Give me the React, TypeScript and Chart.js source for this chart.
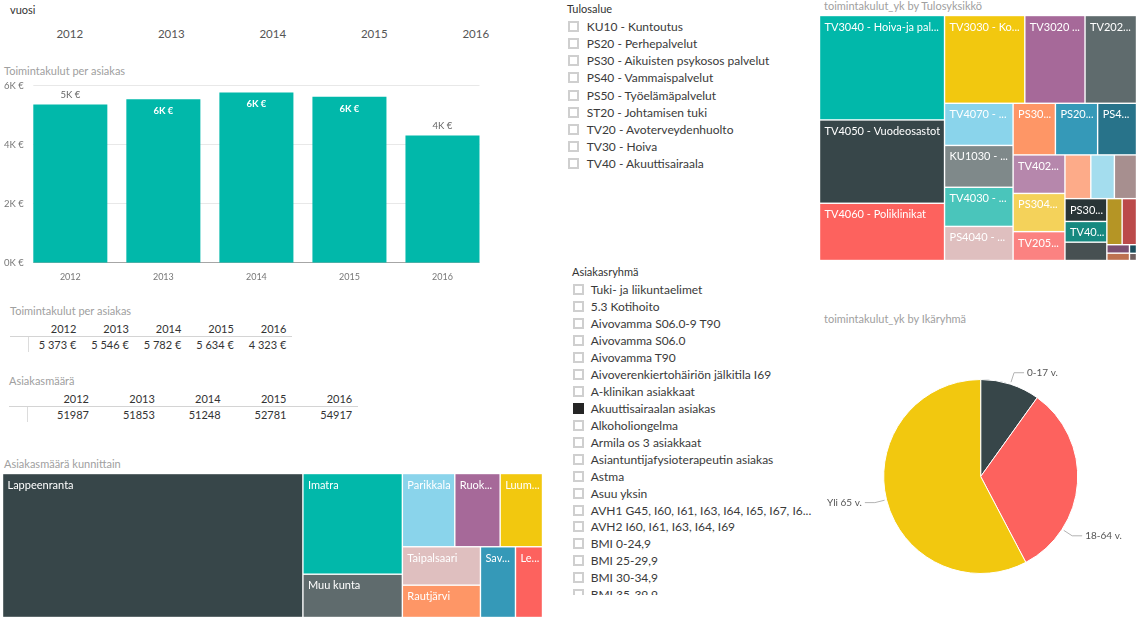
import React, { useEffect, useRef } from "react";
import { Chart, registerables } from "chart.js";

Chart.register(...registerables);

const FONT = "Lato, 'Open Sans', 'DejaVu Sans', sans-serif";

// ---------------- data ----------------
const yearSlicerValues = ["2012", "2013", "2014", "2015", "2016"];
const barCategories = ["2012", "2013", "2014", "2015", "2016"];
const costPerClient = [5373, 5546, 5782, 5634, 4323];
const costAxisTicks = [0, 2000, 4000, 6000];
const tableYears = ["2012", "2013", "2014", "2015", "2016"];
const clientCounts = [51987, 51853, 51248, 52781, 54917];

const tulosalueet = [
  "KU10 - Kuntoutus",
  "PS20 - Perhepalvelut",
  "PS30 - Aikuisten psykosos palvelut",
  "PS40 - Vammaispalvelut",
  "PS50 - Työelämäpalvelut",
  "ST20 - Johtamisen tuki",
  "TV20 - Avoterveydenhuolto",
  "TV30 - Hoiva",
  "TV40 - Akuuttisairaala",
];

const asiakasryhmat = [
  "Tuki- ja liikuntaelimet",
  "5.3 Kotihoito",
  "Aivovamma S06.0-9 T90",
  "Aivovamma S06.0",
  "Aivovamma T90",
  "Aivoverenkiertohäiriön jälkitila I69",
  "A-klinikan asiakkaat",
  "Akuuttisairaalan asiakas",
  "Alkoholiongelma",
  "Armila os 3 asiakkaat",
  "Asiantuntijafysioterapeutin asiakas",
  "Astma",
  "Asuu yksin",
  "AVH1 G45, I60, I61, I63, I64, I65, I67, I68, I69",
  "AVH2 I60, I61, I63, I64, I69",
  "BMI 0-24,9",
  "BMI 25-29,9",
  "BMI 30-34,9",
  "BMI 35-39,9",
];
const valitutAsiakasryhmat = ["Akuuttisairaalan asiakas"];

const kunnat = [
  "Lappeenranta",
  "Imatra",
  "Muu kunta",
  "Parikkala",
  "Ruokolahti",
  "Luumäki",
  "Taipalsaari",
  "Rautjärvi",
  "Savitaipale",
  "Lemi",
];
const kuntaAsiakkaat = [30550, 7073, 3042, 2712, 2347, 2191, 2118, 1783, 1750, 1350];
const kuntaVarit = [
  "#374649", "#01B8AA", "#5F6B6D", "#8AD4EB", "#A66999",
  "#F2C80F", "#DFBFBF", "#FE9666", "#3599B8", "#FD625E",
];

const tulosyksikot = [
  "TV3040 - Hoiva-ja palveluasuminen",
  "TV4050 - Vuodeosastot",
  "TV4060 - Poliklinikat",
  "TV3030 - Kotihoito",
  "TV3020 - Kotiutustiimi",
  "TV2020 - Vastaanotot",
  "TV4070 - Kuvantaminen",
  "KU1030 - Kuntoutuspalvelut",
  "TV4030 - Päivystys",
  "PS4040 - Asumispalvelut",
  "PS3030 - Päihdepalvelut",
  "PS2010 - Lastensuojelu",
  "PS4030 - Työtoiminta",
  "TV4020 - Leikkaustoiminta",
  "PS3040 - Mielenterveyspalvelut",
  "TV2050 - Suun terveydenhuolto",
  "TV2030 - Neuvolat",
  "TV2040 - Kouluterveydenhuolto",
  "TV2060 - Fysioterapia",
  "PS3020 - Aikuissosiaalityö",
  "TV4010 - Ensihoito",
  "PS2020 - Perhetyö",
  "KU1020 - Apuvälineet",
  "TV4040 - Laboratorio",
  "PS4020 - Kehitysvammapalvelut",
  "PS5010 - Työllisyyspalvelut",
  "ST2010 - Hallinto",
  "PS2030 - Perheneuvola",
];
const tulosyksikkoKulut = [
  12969, 10350, 7108, 7000, 5250, 4489, 2870, 2850, 2664, 2322, 2170, 2165, 1993, 1984,
  1968, 1487, 1123, 1024, 960, 950, 863, 763, 699, 658, 190, 165, 60, 50,
];
const tulosyksikkoVarit = [
  "#01B8AA", "#374649", "#FD625E", "#F2C80F", "#A66999", "#5F6B6D", "#8AD4EB",
  "#7F898A", "#4AC5BB", "#DFBFBF", "#FE9666", "#3599B8", "#28738A", "#B687AC",
  "#F4D25A", "#FB8281", "#FDAB89", "#A4DDEE", "#A78F8F", "#293537", "#168980",
  "#475052", "#B59525", "#BB4A4A", "#7B4F71", "#BD7150", "#1B4D5C", "#706060",
];

const ikaryhmat = ["0-17 v.", "18-64 v.", "Yli 65 v."];
const ikaryhmaKulut = [9.9, 32.4, 57.7];
const ikaryhmaVarit = ["#374649", "#FD625E", "#F2C80F"];

// ---------------- helpers ----------------
let measureCtx: CanvasRenderingContext2D | null = null;
function measure(text: string, font: string): number {
  if (!measureCtx) measureCtx = document.createElement("canvas").getContext("2d");
  measureCtx!.font = font;
  return measureCtx!.measureText(text).width;
}
function fitText(text: string, font: string, maxW: number, minChars = 1): string | null {
  if (measure(text, font) <= maxW) return text;
  let s = text;
  while (s.length > 0 && measure(s + "...", font) > maxW) s = s.slice(0, -1);
  if (s.length < minChars) return null;
  return s + "...";
}
function fmtThousands(v: number): string {
  return String(v).replace(/\B(?=(\d{3})+(?!\d))/g, "\u00a0");
}

type Rect = { x0: number; y0: number; x1: number; y1: number };
// squarified layout (golden-ratio variant)
function squarify(values: number[], x0: number, y0: number, x1: number, y1: number): Rect[] {
  const ratio = (1 + Math.sqrt(5)) / 2;
  const rects: Rect[] = new Array(values.length);
  const n = values.length;
  let i0 = 0;
  let value = values.reduce((a, b) => a + b, 0);
  while (i0 < n) {
    const dx = x1 - x0;
    const dy = y1 - y0;
    let i1 = i0;
    let sumValue = values[i1++];
    let minValue = sumValue;
    let maxValue = sumValue;
    const alpha = Math.max(dy / dx, dx / dy) / (value * ratio);
    let beta = sumValue * sumValue * alpha;
    let minRatio = Math.max(maxValue / beta, beta / minValue);
    for (; i1 < n; ++i1) {
      const nv = values[i1];
      sumValue += nv;
      if (nv < minValue) minValue = nv;
      if (nv > maxValue) maxValue = nv;
      beta = sumValue * sumValue * alpha;
      const newRatio = Math.max(maxValue / beta, beta / minValue);
      if (newRatio > minRatio) {
        sumValue -= nv;
        break;
      }
      minRatio = newRatio;
    }
    if (dx < dy) {
      const yb = i1 >= n ? y1 : y0 + (dy * sumValue) / value;
      const k = (x1 - x0) / sumValue;
      let x = x0;
      for (let i = i0; i < i1; i++) {
        const w = values[i] * k;
        rects[i] = { x0: x, y0, x1: x + w, y1: yb };
        x += w;
      }
      y0 = yb;
    } else {
      const xb = i1 >= n ? x1 : x0 + (dx * sumValue) / value;
      const k = (y1 - y0) / sumValue;
      let y = y0;
      for (let i = i0; i < i1; i++) {
        const h = values[i] * k;
        rects[i] = { x0, y0: y, x1: xb, y1: y + h };
        y += h;
      }
      x0 = xb;
    }
    value -= sumValue;
    i0 = i1;
  }
  return rects;
}

// ---------------- text primitives ----------------
type TxtProps = {
  x: number;
  y: number;
  text: string;
  size?: number;
  color?: string;
  align?: "left" | "right" | "center";
  weight?: number;
};
function Txt({ x, y, text, size = 11, color = "#333", align = "left", weight = 400 }: TxtProps) {
  const lh = Math.round(size * 1.4);
  const style: React.CSSProperties = {
    position: "absolute",
    top: y - lh / 2,
    lineHeight: lh + "px",
    fontSize: size,
    color,
    fontWeight: weight,
    whiteSpace: "nowrap",
  };
  if (align === "left") style.left = x;
  else if (align === "right") {
    style.right = 1142 - x;
    style.textAlign = "right";
  } else {
    style.left = x - 60;
    style.width = 120;
    style.textAlign = "center";
  }
  return <div style={style}>{text}</div>;
}

// ---------------- bar chart ----------------
function CostBarChart() {
  const ref = useRef<HTMLCanvasElement>(null);
  useEffect(() => {
    const deco = {
      id: "deco",
      beforeDatasetsDraw(chart: any) {
        const { ctx } = chart;
        const ys = chart.scales.y;
        const meta = chart.getDatasetMeta(0);
        const first = meta.data[0];
        const last = meta.data[meta.data.length - 1];
        const left = first.x - first.width / 2;
        const right = last.x + last.width / 2;
        ctx.save();
        ctx.lineWidth = 1;
        for (const t of costAxisTicks) {
          const py = Math.round(ys.getPixelForValue(t)) - 0.5;
          ctx.strokeStyle = t === 0 ? "#a6a6a6" : "#e8e8e8";
          ctx.beginPath();
          ctx.moveTo(left, py);
          ctx.lineTo(right, py);
          ctx.stroke();
        }
        ctx.restore();
      },
      afterDatasetsDraw(chart: any) {
        const { ctx, chartArea } = chart;
        const meta = chart.getDatasetMeta(0);
        ctx.save();
        ctx.textAlign = "center";
        ctx.textBaseline = "middle";
        meta.data.forEach((bar: any, i: number) => {
          const v = costPerClient[i];
          const label = `${Math.round(v / 1000)}K €`;
          const space = bar.y - chartArea.top;
          if (space >= 16) {
            ctx.font = `9.5px ${FONT}`;
            ctx.fillStyle = "#666";
            ctx.fillText(label, bar.x, bar.y - 9.5);
          } else {
            ctx.font = `bold 9.5px ${FONT}`;
            ctx.fillStyle = "#ffffff";
            ctx.fillText(label, bar.x, bar.y + 12);
          }
        });
        ctx.restore();
      },
    };
    const chart = new Chart(ref.current!, {
      type: "bar",
      data: {
        labels: barCategories,
        datasets: [
          {
            data: costPerClient,
            backgroundColor: "#01B8AA",
            borderWidth: 0,
            barPercentage: 74 / 93,
            categoryPercentage: 1,
          },
        ],
      },
      options: {
        animation: false,
        responsive: false,
        events: [],
        layout: { padding: { top: 10, right: 0, left: 0, bottom: 0 } },
        plugins: { legend: { display: false }, tooltip: { enabled: false } },
        scales: {
          x: {
            grid: { display: false, drawTicks: false },
            border: { display: false },
            ticks: { color: "#777", font: { family: FONT, size: 9 }, padding: 9, maxRotation: 0 },
            afterFit: (s: any) => {
              s.height = 29.3;
            },
          },
          y: {
            min: 0,
            max: 6000,
            grid: { display: false, drawTicks: false },
            border: { display: false },
            ticks: {
              color: "#777",
              font: { family: FONT, size: 9.5 },
              padding: 0,
              callback: (v: any) => `${Number(v) / 1000}K €`,
            },
            afterBuildTicks: (s: any) => {
              s.ticks = costAxisTicks.map((v) => ({ value: v }));
            },
            afterFit: (s: any) => {
              s.width = 23.8;
            },
          },
        },
      } as any,
      plugins: [deco],
    });
    return () => chart.destroy();
  }, []);
  return (
    <canvas
      ref={ref}
      width={489}
      height={216}
      style={{ position: "absolute", left: 0, top: 76, width: 489, height: 216 }}
    />
  );
}

// ---------------- treemap (drawn on chart.js linear scales) ----------------
type TreemapProps = {
  left: number;
  top: number;
  width: number;
  height: number;
  labels: string[];
  values: number[];
  colors: string[];
  labelInset: number;
};
function Treemap({ left, top, width, height, labels, values, colors, labelInset }: TreemapProps) {
  const ref = useRef<HTMLCanvasElement>(null);
  useEffect(() => {
    const treemapPlugin = {
      id: "treemap",
      afterDatasetsDraw(chart: any) {
        const { ctx } = chart;
        const xs = chart.scales.x;
        const ys = chart.scales.y;
        const rects = squarify(values, 0.5, 0.5, width - 0.5, height - 0.5);
        const font = `11px ${FONT}`;
        ctx.save();
        rects.forEach((r, i) => {
          const px0 = xs.getPixelForValue(r.x0);
          const px1 = xs.getPixelForValue(r.x1);
          const py0 = ys.getPixelForValue(r.y0);
          const py1 = ys.getPixelForValue(r.y1);
          const w = px1 - px0;
          const h = py1 - py0;
          ctx.fillStyle = colors[i];
          ctx.fillRect(px0 + 0.7, py0 + 0.7, Math.max(w - 1.4, 0), Math.max(h - 1.4, 0));
          if (h >= 20) {
            const t = fitText(labels[i], font, w - labelInset, 2);
            if (t) {
              ctx.font = font;
              ctx.fillStyle = "#ffffff";
              ctx.textBaseline = "alphabetic";
              ctx.textAlign = "left";
              ctx.fillText(t, px0 + 5, py0 + 15);
            }
          }
        });
        ctx.restore();
      },
    };
    const chart = new Chart(ref.current!, {
      type: "scatter",
      data: { datasets: [{ data: [] }] },
      options: {
        animation: false,
        responsive: false,
        events: [],
        layout: { padding: 0 },
        plugins: { legend: { display: false }, tooltip: { enabled: false } },
        scales: {
          x: { type: "linear", min: 0, max: width, display: false },
          y: { type: "linear", min: 0, max: height, reverse: true, display: false },
        },
      } as any,
      plugins: [treemapPlugin],
    });
    return () => chart.destroy();
  }, []);
  return (
    <canvas
      ref={ref}
      width={width}
      height={height}
      style={{ position: "absolute", left, top, width, height }}
    />
  );
}

// ---------------- pie ----------------
function AgePie() {
  const ref = useRef<HTMLCanvasElement>(null);
  useEffect(() => {
    const labelPlugin = {
      id: "pieLabels",
      afterDatasetsDraw(chart: any) {
        const { ctx } = chart;
        const meta = chart.getDatasetMeta(0);
        const font = `10px ${FONT}`;
        const rightBound = chart.width - 20;
        ctx.save();
        ctx.font = font;
        meta.data.forEach((arc: any, i: number) => {
          const { startAngle, endAngle, outerRadius, x, y } = arc.getProps(
            ["startAngle", "endAngle", "outerRadius", "x", "y"],
            true
          );
          const text = ikaryhmat[i];
          const tw = ctx.measureText(text).width;
          let ang = (startAngle + endAngle) / 2;
          const step = Math.PI / 180;
          for (let k = 0; k < 120; k++) {
            const c = Math.cos(ang);
            const ex = x + (outerRadius + 12) * c;
            if (c >= 0 && ex + 13 + tw > rightBound && ang + step < endAngle - step) {
              ang += Math.sin(ang) >= 0 ? step : -step;
            } else break;
          }
          const c = Math.cos(ang);
          const s = Math.sin(ang);
          const sx = x + (outerRadius + 2) * c;
          const sy = y + (outerRadius + 2) * s;
          const ex = x + (outerRadius + 12) * c;
          const ey = y + (outerRadius + 12) * s;
          const dir = c >= 0 ? 1 : -1;
          const hx = ex + dir * 10;
          ctx.strokeStyle = "#b3b3b3";
          ctx.lineWidth = 1;
          ctx.beginPath();
          ctx.moveTo(sx, sy);
          ctx.lineTo(ex, ey);
          ctx.lineTo(hx, ey);
          ctx.stroke();
          ctx.fillStyle = "#555";
          ctx.textBaseline = "middle";
          ctx.textAlign = dir > 0 ? "left" : "right";
          ctx.fillText(text, hx + dir * 3, ey);
        });
        ctx.restore();
      },
    };
    const chart = new Chart(ref.current!, {
      type: "pie",
      data: {
        labels: ikaryhmat,
        datasets: [
          {
            data: ikaryhmaKulut,
            backgroundColor: ikaryhmaVarit,
            borderWidth: 1,
            borderColor: "#ffffff",
          },
        ],
      },
      options: {
        animation: false,
        responsive: false,
        events: [],
        layout: { padding: { left: 68.2, right: 63.8, top: 43, bottom: 43 } },
        plugins: { legend: { display: false }, tooltip: { enabled: false } },
      } as any,
      plugins: [labelPlugin],
    });
    return () => chart.destroy();
  }, []);
  return (
    <canvas
      ref={ref}
      width={327}
      height={281}
      style={{ position: "absolute", left: 815, top: 336, width: 327, height: 281 }}
    />
  );
}

// ---------------- slicer ----------------
function Checkbox({ x, y, checked }: { x: number; y: number; checked: boolean }) {
  return (
    <div
      style={{
        position: "absolute",
        left: x,
        top: y - 5.5,
        width: 11,
        height: 11,
        boxSizing: "border-box",
        border: checked ? "1px solid #252525" : "2px solid #cfcfcf",
        background: checked ? "#252525" : "#fff",
      }}
    />
  );
}

function ListSlicer({
  title,
  titleX,
  titleY,
  boxX,
  textX,
  firstY,
  step,
  items,
  checked,
  clipBottom,
  textRight,
}: {
  title: string;
  titleX: number;
  titleY: number;
  boxX: number;
  textX: number;
  firstY: number;
  step: number;
  items: string[];
  checked: string[];
  clipBottom: number;
  textRight: number;
}) {
  const clipTop = firstY - step / 2 - 2;
  const font = `12px ${FONT}`;
  return (
    <>
      <Txt x={titleX} y={titleY} text={title} size={11} color="#333" />
      <div
        style={{
          position: "absolute",
          left: boxX - 2,
          top: clipTop,
          width: textRight - boxX + 6,
          height: clipBottom - clipTop,
          overflow: "hidden",
        }}
      >
        {items.map((it, i) => {
          const cy = firstY + i * step - clipTop;
          const shown = fitText(it, font, textRight - textX) || it;
          return (
            <React.Fragment key={it}>
              <Checkbox x={2} y={cy} checked={checked.includes(it)} />
              <div
                style={{
                  position: "absolute",
                  left: textX - boxX + 2,
                  top: cy - 8.5,
                  lineHeight: "17px",
                  fontSize: 12,
                  color: "#3a3a3a",
                  whiteSpace: "nowrap",
                }}
              >
                {shown}
              </div>
            </React.Fragment>
          );
        })}
      </div>
    </>
  );
}

// ---------------- tables ----------------
function MatrixTable({
  title,
  titleX,
  titleY,
  lineLeft,
  lineRight,
  sepX,
  colStep,
  colPad,
  headerY,
  lineY,
  valueY,
  headers,
  values,
}: {
  title: string;
  titleX: number;
  titleY: number;
  lineLeft: number;
  lineRight: number;
  sepX: number;
  colStep: number;
  colPad: number;
  headerY: number;
  lineY: number;
  valueY: number;
  headers: string[];
  values: string[];
}) {
  return (
    <>
      <Txt x={titleX} y={titleY} text={title} size={11} color="#a0a0a0" />
      {headers.map((h, i) => (
        <Txt key={"h" + i} x={sepX + (i + 1) * colStep - colPad} y={headerY} text={h} align="right" color="#333" />
      ))}
      <div
        style={{
          position: "absolute",
          left: lineLeft,
          top: lineY,
          width: lineRight - lineLeft,
          height: 1,
          background: "#d4d4d4",
        }}
      />
      <div
        style={{ position: "absolute", left: sepX, top: lineY + 1, width: 1, height: 15, background: "#dcdcdc" }}
      />
      {values.map((v, i) => (
        <Txt key={"v" + i} x={sepX + (i + 1) * colStep - colPad} y={valueY} text={v} align="right" color="#333" />
      ))}
    </>
  );
}

export default function App() {
  return (
    <div
      style={{
        position: "absolute",
        left: 0,
        top: 0,
        width: 1142,
        height: 623,
        overflow: "hidden",
        background: "#fff",
        fontFamily: FONT,
      }}
    >
      {/* vuosi slicer */}
      <Txt x={10} y={9} text="vuosi" size={11} color="#333" />
      {yearSlicerValues.map((y, i) => (
        <Txt key={y} x={19 + 101.5 * i + 50.75} y={34} text={y} size={11.5} color="#555" align="center" />
      ))}

      {/* bar chart */}
      <Txt x={4} y={70} text="Toimintakulut per asiakas" size={11} color="#a0a0a0" />
      <CostBarChart />

      {/* tables */}
      <MatrixTable
        title="Toimintakulut per asiakas"
        titleX={10}
        titleY={310}
        lineLeft={10}
        lineRight={292}
        sepX={27.7}
        colStep={52.5}
        colPad={3.9}
        headerY={328.5}
        lineY={336}
        valueY={344}
        headers={tableYears}
        values={costPerClient.map((v) => fmtThousands(v) + "\u00a0€")}
      />
      <MatrixTable
        title="Asiakasmäärä"
        titleX={9}
        titleY={380}
        lineLeft={9}
        lineRight={358}
        sepX={26.7}
        colStep={65.8}
        colPad={3.5}
        headerY={398}
        lineY={406}
        valueY={414}
        headers={tableYears}
        values={clientCounts.map((v) => String(v))}
      />

      {/* municipality treemap */}
      <Txt x={4} y={463} text="Asiakasmäärä kunnittain" size={11} color="#a0a0a0" />
      <Treemap
        left={2}
        top={473}
        width={541}
        height={145}
        labels={kunnat}
        values={kuntaAsiakkaat}
        colors={kuntaVarit}
        labelInset={7.8}
      />

      {/* Tulosalue slicer */}
      <ListSlicer
        title="Tulosalue"
        titleX={567}
        titleY={8.5}
        boxX={568}
        textX={586.7}
        firstY={26.7}
        step={17.08}
        items={tulosalueet}
        checked={[]}
        clipBottom={175}
        textRight={805}
      />

      {/* Asiakasryhmä slicer */}
      <ListSlicer
        title="Asiakasryhmä"
        titleX={572}
        titleY={271}
        boxX={572.7}
        textX={590.7}
        firstY={289.7}
        step={16.95}
        items={asiakasryhmat}
        checked={valitutAsiakasryhmat}
        clipBottom={595}
        textRight={813.5}
      />

      {/* Tulosyksikkö treemap */}
      <Txt x={824} y={5.5} text="toimintakulut_yk by Tulosyksikkö" size={11} color="#a0a0a0" />
      <Treemap
        left={819}
        top={15}
        width={318}
        height={246}
        labels={tulosyksikot}
        values={tulosyksikkoKulut}
        colors={tulosyksikkoVarit}
        labelInset={6.8}
      />

      {/* pie */}
      <Txt x={824} y={318.5} text="toimintakulut_yk by Ikäryhmä" size={11} color="#a0a0a0" />
      <AgePie />
    </div>
  );
}
